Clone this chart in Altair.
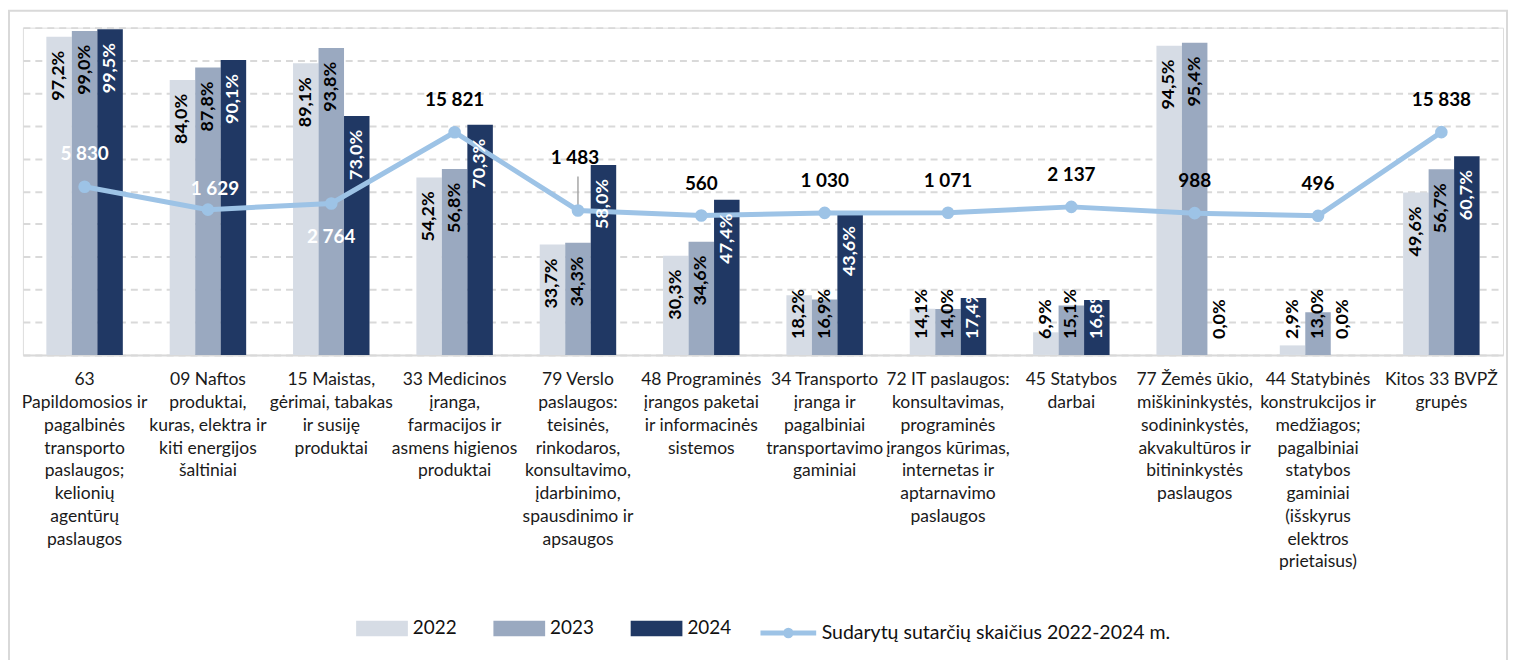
import altair as alt
import pandas as pd

# ---------------- data ----------------
categories = [
    "63\nPapildomosios ir\npagalbinės\ntransporto\npaslaugos;\nkelionių\nagentūrų\npaslaugos",
    "09 Naftos\nproduktai,\nkuras, elektra ir\nkiti energijos\nšaltiniai",
    "15 Maistas,\ngėrimai, tabakas\nir susiję\nproduktai",
    "33 Medicinos\nįranga,\nfarmacijos ir\nasmens higienos\nproduktai",
    "79 Verslo\npaslaugos:\nteisinės,\nrinkodaros,\nkonsultavimo,\nįdarbinimo,\nspausdinimo ir\napsaugos",
    "48 Programinės\nįrangos paketai\nir informacinės\nsistemos",
    "34 Transporto\nįranga ir\npagalbiniai\ntransportavimo\ngaminiai",
    "72 IT paslaugos:\nkonsultavimas,\nprograminės\nįrangos kūrimas,\ninternetas ir\naptarnavimo\npaslaugos",
    "45 Statybos\ndarbai",
    "77 Žemės ūkio,\nmiškininkystės,\nsodininkystės,\nakvakultūros ir\nbitininkystės\npaslaugos",
    "44 Statybinės\nkonstrukcijos ir\nmedžiagos;\npagalbiniai\nstatybos\ngaminiai\n(išskyrus\nelektros\nprietaisus)",
    "Kitos 33 BVPŽ\ngrupės",
]
years = ["2022", "2023", "2024"]
share_2022 = [97.2, 84.0, 89.1, 54.2, 33.7, 30.3, 18.2, 14.1, 6.9, 94.5, 2.9, 49.6]
share_2023 = [99.0, 87.8, 93.8, 56.8, 34.3, 34.6, 16.9, 14.0, 15.1, 95.4, 13.0, 56.7]
share_2024 = [99.5, 90.1, 73.0, 70.3, 58.0, 47.4, 43.6, 17.4, 16.8, 0.0, 0.0, 60.7]
contracts = [5830, 1629, 2764, 15821, 1483, 560, 1030, 1071, 2137, 988, 496, 15838]
line_series = "Sudarytų sutarčių skaičius 2022-2024 m."

# ---------------- styles ----------------
BAR_COLORS = ["#D6DCE5", "#9AA9C0", "#203864"]
LINE_COLOR = "#9DC3E6"
GRID = "#D9D9D9"
FONT = "Lato"
W, H = 1488, 329

# (category indices, colour, dy, dx) for the contract-count labels
LINE_LABEL_STYLE = [
    ([0], "white", -33, 0),
    ([1], "white", -21, 7),
    ([2], "white", 34, 0),
    ([4], "black", -53, -3),
    ([3, 5, 6, 7, 8, 9, 10, 11], "black", -32, 0),
]

rows = []
for i, c in enumerate(categories):
    for y, vals in zip(years, [share_2022, share_2023, share_2024]):
        v = vals[i]
        rows.append({"idx": i, "cat": c, "year": y, "share": v,
                     "label": f"{v:.1f}".replace(".", ",") + "%"})
bars_df = pd.DataFrame(rows)

line_df = pd.DataFrame({
    "idx": list(range(len(categories))),
    "cat": categories,
    "contracts": contracts,
    "label": [f"{v:,}".replace(",", " ") for v in contracts],
    "series": [line_series] * len(categories),
})

x_enc = alt.X(
    "cat:N", sort=categories,
    scale=alt.Scale(paddingInner=0.38, paddingOuter=0.19),
    axis=alt.Axis(title=None, labelAngle=0, labelExpr="split(datum.label, '\\n')",
                  ticks=False, domainColor=GRID, domainWidth=2,
                  labelFont=FONT, labelFontSize=17.6, labelLineHeight=22.9,
                  labelPadding=16, labelColor="#1a1a1a", labelLimit=400,
                  labelOverlap=False, labelBaseline="top", labelBound=False,
                  labelFlush=False),
)
x_plain = alt.X("cat:N", sort=categories, scale=alt.Scale(paddingInner=0.38, paddingOuter=0.19))
x_off = alt.XOffset("year:N", sort=years, scale=alt.Scale(paddingInner=0, paddingOuter=0))
pct_scale = alt.Scale(domain=[0, 100], nice=False, zero=True)
cnt_scale = alt.Scale(domain=[-25000, 35000], nice=False, zero=False)

# border
border = alt.Chart(pd.DataFrame({"a": [0]})).mark_rect(
    fillOpacity=0, stroke=GRID, strokeWidth=2
).encode(x=alt.value(-14), x2=alt.value(W + 4), y=alt.value(-17), y2=alt.value(700))

bars = alt.Chart(bars_df).mark_bar().encode(
    x=x_enc,
    xOffset=x_off,
    y=alt.Y("share:Q", scale=pct_scale,
            axis=alt.Axis(title=None, labels=False, ticks=False, domain=False,
                          grid=True, values=list(range(0, 101, 10)),
                          gridColor=GRID, gridDash=[7, 5], gridWidth=2)),
    color=alt.Color("year:N", scale=alt.Scale(domain=years, range=BAR_COLORS),
                    legend=alt.Legend(title=None, orient="none", legendX=335, legendY=578,
                                      direction="horizontal",
                                      symbolType="M-1,-0.3H1V0.3H-1Z", symbolSize=2704,
                                      symbolStrokeWidth=0, labelFont=FONT, labelFontSize=19,
                                      labelColor="#111", labelOffset=5, columnPadding=36)),
)

line = alt.Chart(line_df).mark_line(strokeWidth=5).encode(
    x=x_plain,
    y=alt.Y("contracts:Q", scale=cnt_scale, axis=None),
    stroke=alt.Stroke("series:N", scale=alt.Scale(range=[LINE_COLOR]),
                      legend=alt.Legend(title=None, orient="none", legendX=739, legendY=578,
                                        symbolType="M-1,0H1M0.1,0A0.1,0.1,0,1,1,-0.1,0A0.1,0.1,0,1,1,0.1,0",
                                        symbolSize=3136, symbolStrokeWidth=5,
                                        labelFont=FONT, labelFontSize=19.6, labelColor="#111",
                                        labelOffset=3, labelLimit=600)),
)

leader = alt.Chart(line_df).transform_filter("datum.idx == 4").mark_rule(
    color="#A6A6A6", strokeWidth=1.5, y2Offset=-34
).encode(
    x=x_plain,
    y=alt.Y("contracts:Q", scale=cnt_scale, axis=None),
    y2=alt.Y2("contracts:Q"),
)

points = alt.Chart(line_df).mark_circle(size=160, opacity=1, color=LINE_COLOR).encode(
    x=x_plain,
    y=alt.Y("contracts:Q", scale=cnt_scale, axis=None),
)

bar_label_top = alt.Chart(bars_df).transform_filter("datum.share >= 25").mark_text(
    angle=270, align="right", baseline="middle", dx=-14,
    font=FONT, fontSize=18, fontWeight="bold"
).encode(
    x=x_plain, xOffset=x_off,
    y=alt.Y("share:Q", scale=pct_scale, axis=None),
    text="label:N",
    color=alt.condition("datum.year == '2024' && datum.share > 0",
                        alt.value("white"), alt.value("black")),
)

bar_label_base = alt.Chart(bars_df).transform_filter("datum.share < 25").transform_calculate(
    zero="0"
).mark_text(
    angle=270, align="left", baseline="middle", dx=16,
    font=FONT, fontSize=18, fontWeight="bold"
).encode(
    x=x_plain, xOffset=x_off,
    y=alt.Y("zero:Q", scale=pct_scale, axis=None),
    text="label:N",
    color=alt.condition("datum.year == '2024' && datum.share > 0",
                        alt.value("white"), alt.value("black")),
)

line_labels = []
for idxs, col, dy, dx in LINE_LABEL_STYLE:
    cond = " || ".join(f"datum.idx == {k}" for k in idxs)
    line_labels.append(
        alt.Chart(line_df).transform_filter(cond).mark_text(
            font=FONT, fontSize=19, fontWeight="bold", color=col, dy=dy, dx=dx,
            baseline="middle", align="center"
        ).encode(
            x=x_plain,
            y=alt.Y("contracts:Q", scale=cnt_scale, axis=None),
            text="label:N",
        )
    )

chart = alt.layer(
    border, bars, line, leader, points, bar_label_top, bar_label_base, *line_labels
).resolve_scale(y="independent").properties(
    width=W, height=H,
    autosize=alt.AutoSizeParams(type="none"),
    padding={"left": 15, "top": 18, "right": 6, "bottom": 305},
).configure_view(stroke=None).configure(font=FONT)

chart.save("out.html", embed_options={"renderer": "svg", "actions": False})
